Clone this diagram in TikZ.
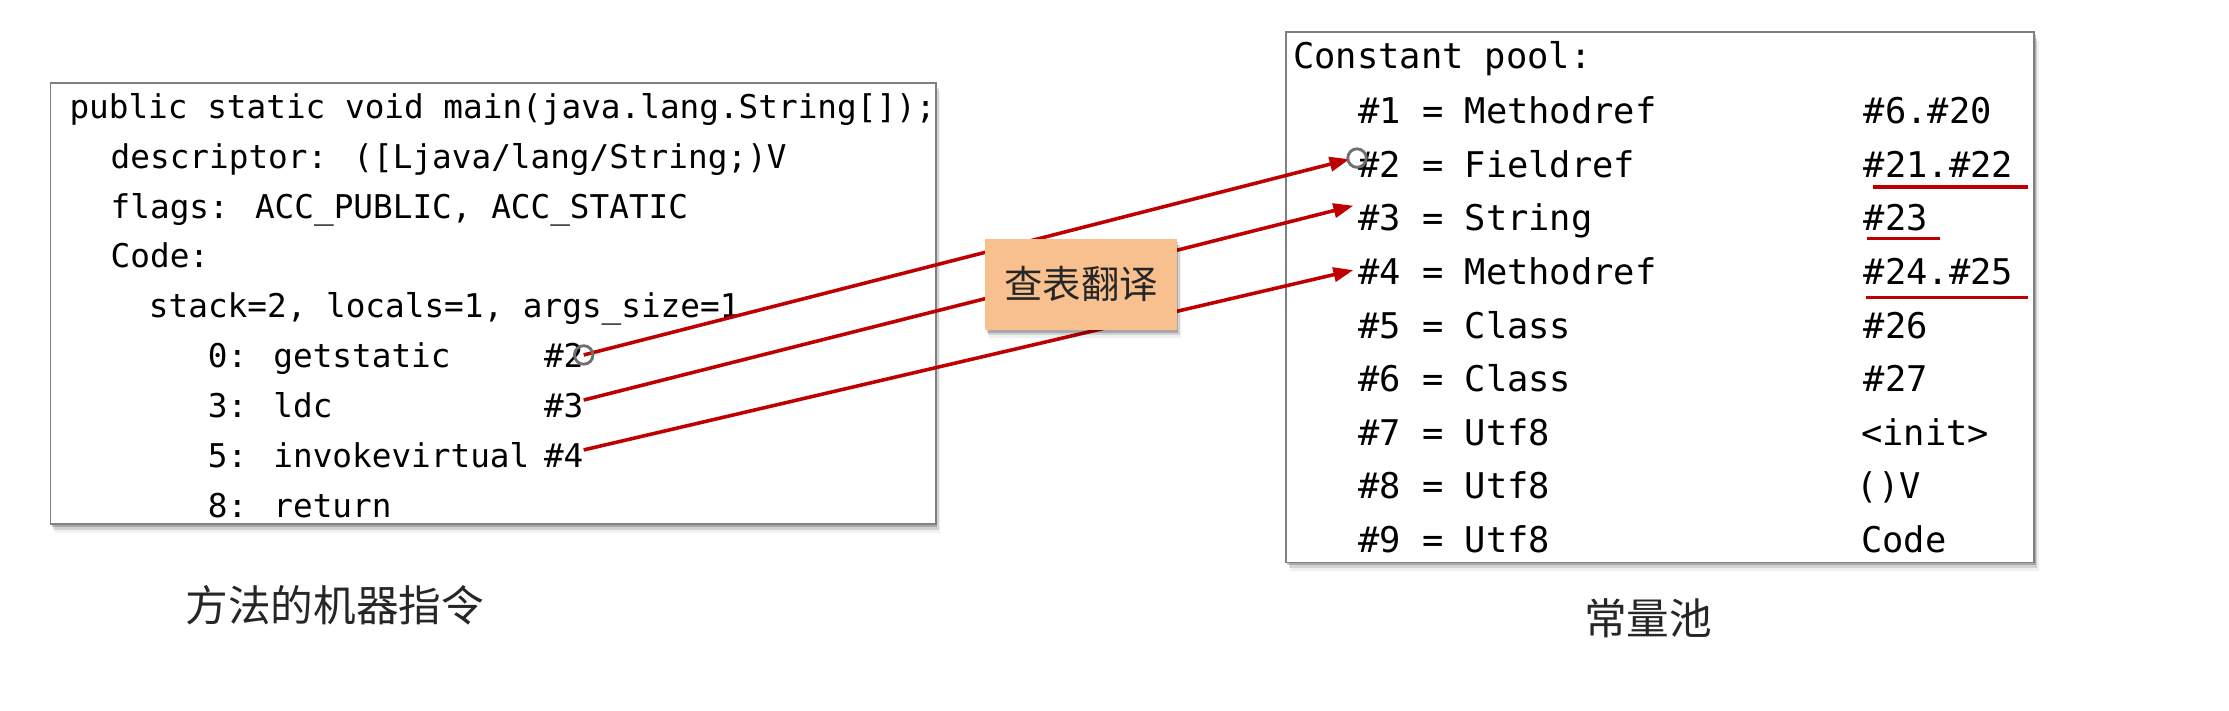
\documentclass[tikz,border=0pt]{standalone}
\usepackage{fontspec}
\newfontfamily\codefont{DejaVu Sans Mono}
\newfontfamily\cjkfont{Noto Sans CJK SC}
\usetikzlibrary{arrows.meta,shadows}
\definecolor{arrowred}{HTML}{C00000}
\definecolor{boxgray}{HTML}{808080}
\definecolor{lookupfill}{HTML}{F8C08E}
\definecolor{labeltext}{HTML}{262626}
\definecolor{ringgray}{HTML}{6F6F6F}
\tikzset{
  softshadow/.style={
    drop shadow={shadow xshift=1pt,shadow yshift=-2pt,opacity=0.2,fill=black},
    drop shadow={shadow xshift=2pt,shadow yshift=-4pt,opacity=0.12,fill=black},
    drop shadow={shadow xshift=3pt,shadow yshift=-6pt,opacity=0.06,fill=black}},
  panel/.style={rectangle, draw=boxgray, line width=1.3pt, fill=white, inner sep=0pt, softshadow},
  lcode/.style={font=\codefont\fontsize{23}{23}\selectfont, anchor=base west, inner sep=0pt, text height=17pt, text depth=5pt},
  rcode/.style={font=\codefont\fontsize{24.9}{24.9}\selectfont, anchor=base west, inner sep=0pt, text height=18.5pt, text depth=5.5pt},
  refarrow/.style={draw=arrowred, line width=2.5pt, -{Triangle[length=14pt,width=10pt]}},
  underl/.style={draw=arrowred, line width=2.6pt},
  endring/.style={circle, draw=ringgray, line width=2pt, minimum size=13pt, inner sep=0pt},
  captext/.style={font=\cjkfont\fontsize{30}{30}\selectfont, text=labeltext, inner sep=0pt},
  lookupbox/.style={rectangle, fill=lookupfill, minimum width=135pt, minimum height=64pt, inner sep=0pt,
    font=\cjkfont\fontsize{27}{27}\selectfont, text=labeltext, softshadow}
}
\begin{document}
\begin{tikzpicture}[x=1pt,y=-1pt]
\useasboundingbox (0,0) rectangle (1568,500);
\fill[white] (0,0) rectangle (1568,500);

% panels
\node[panel, minimum width=622.9pt, minimum height=310.4pt] (codebox) at (347,213.4) {};
\node[panel, minimum width=526.4pt, minimum height=373pt] (poolbox) at (1167.8,209.2) {};

% method code
\node[lcode] (c1) at (48.7,83.2) {public static void main(java.lang.String[]);};
\node[lcode] (c2) at (77.7,118.3) {descriptor: ([Ljava/lang/String;)V};
\node[lcode] (c3) at (77.7,153.4) {flags: ACC\_PUBLIC, ACC\_STATIC};
\node[lcode] (c4) at (77.7,188.5) {Code:};
\node[lcode] (c5) at (104.6,223.6) {stack=2, locals=1, args\_size=1};
\node[lcode] (c6) at (146,258.7) {0: getstatic};
\node[lcode] (l2) at (382.5,258.7) {\#2};
\node[lcode] (c7) at (146,293.8) {3: ldc};
\node[lcode] (l3) at (382.5,293.8) {\#3};
\node[lcode] (c8) at (146,328.9) {5: invokevirtual};
\node[lcode] (l4) at (382.5,328.9) {\#4};
\node[lcode] (c9) at (146,364) {8: return};

% constant pool
\node[rcode] (cp) at (909.5,48.5) {Constant pool:};
\node[rcode] (r1) at (955.2,87) {\#1 = Methodref};
\node[rcode] (v1) at (1311,87) {\#6.\#20};
\node[rcode] (r2) at (955.2,124.7) {\#2 = Fieldref};
\node[rcode] (v2) at (1311,124.7) {\#21.\#22};
\node[rcode] (r3) at (955.2,162.4) {\#3 = String};
\node[rcode] (v3) at (1311,162.4) {\#23};
\node[rcode] (r4) at (955.2,200.1) {\#4 = Methodref};
\node[rcode] (v4) at (1311,200.1) {\#24.\#25};
\node[rcode] (r5) at (955.2,237.8) {\#5 = Class};
\node[rcode] (v5) at (1311,237.8) {\#26};
\node[rcode] (r6) at (955.2,275.5) {\#6 = Class};
\node[rcode] (v6) at (1311,275.5) {\#27};
\node[rcode] (r7) at (955.2,313.2) {\#7 = Utf8};
\node[rcode] (v7) at (1309,313.2) {<init>};
\node[rcode] (r8) at (955.2,350.9) {\#8 = Utf8};
\node[rcode] (v8) at (1306,350.9) {()V};
\node[rcode] (r9) at (955.2,388.6) {\#9 = Utf8};
\node[rcode] (v9) at (1309,388.6) {Code};

% underlines
\draw[underl] (1317.5,131.4) -- (1426.3,131.4);
\draw[underl] (1313,167.8) -- (1364.7,167.8);
\draw[underl] (1312.6,209.3) -- (1426.3,209.3);

% connectors
\draw[refarrow] ([yshift=3pt]l2.east) -- ([xshift=-5.9pt,yshift=6.2pt]r2.west);
\draw[refarrow] ([yshift=6.4pt]l3.east) -- ([xshift=-3.2pt,yshift=11.2pt]r3.west);
\draw[refarrow] ([yshift=6.4pt]l4.east) -- ([xshift=-3.2pt,yshift=3.6pt]r4.west);

% lookup label
\node[lookupbox] (lookup) at (760.5,200) {查表翻译};

% connector end rings
\node[endring] (ringA) at ([yshift=3pt]l2.east) {};
\node[endring] (ringB) at ([xshift=-0.6pt,yshift=7pt]r2.west) {};

% captions
\node[captext] (capL) at (235.5,426) {方法的机器指令};
\node[captext] (capR) at (1159.5,435) {常量池};
\end{tikzpicture}
\end{document}
